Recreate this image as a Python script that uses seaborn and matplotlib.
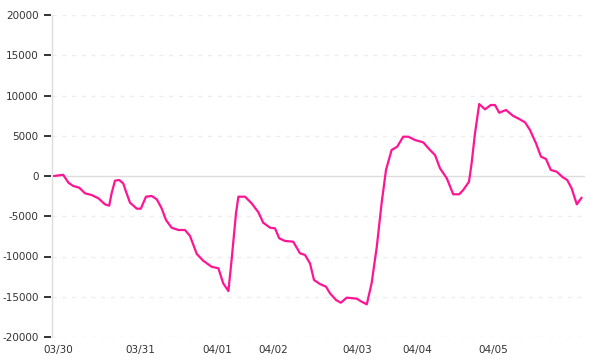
import matplotlib
matplotlib.use("Agg")
import matplotlib.pyplot as plt
from matplotlib.lines import Line2D
import seaborn as sns
import pandas as pd

# time index (trading-time units) and cumulative value
t = [0, 2.3, 3.6, 4.8, 6.3, 7.75, 9.4, 11.1, 12.75, 13.8, 14.4, 15.25, 16.3, 17.3, 18, 19,
     20.7, 21.7, 23, 24.4, 25.7, 26.9, 28, 29.4, 31.1, 32.75, 34, 35.7, 37.3, 39.4, 41.1,
     42.3, 43.6, 44.4, 45.5, 46.1, 47.75, 49.4, 51.1, 52.3, 54, 55.25, 56.3, 57.75, 59.8,
     61.5, 62.75, 64, 65, 66.5, 68, 69, 70.5, 71.7, 73.2, 75.7, 76.9, 78.2, 79.4, 80.7,
     81.9, 83, 84.4, 85.8, 87.3, 88.6, 90.25, 92.3, 94, 95.25, 96.5, 98.2, 99.8, 101.3,
     102.3, 103.75, 104.4, 105.25, 106.3, 107.75, 109.2, 110.25, 111.3, 113, 114.7, 116.3,
     117.75, 119, 120.5, 121.75, 123, 124.2, 125.7, 127.2, 128.3, 129.4, 130.7, 131.9]
values = [0, 150, -830, -1240, -1450, -2150, -2360, -2770, -3520, -3690, -2150, -580, -500,
          -910, -1950, -3310, -4060, -4060, -2570, -2480, -2900, -4010, -5470, -6420, -6710,
          -6710, -7450, -9690, -10520, -11270, -11470, -13330, -14290, -10430, -4630, -2570,
          -2570, -3390, -4510, -5800, -6420, -6500, -7740, -8070, -8160, -9600, -9810, -10850,
          -12920, -13420, -13750, -14570, -15400, -15740, -15110, -15240, -15610, -15940,
          -13330, -8780, -3390, 750, 3230, 3640, 4880, 4880, 4470, 4180, 3230, 2610, 960,
          -290, -2270, -2270, -1740, -710, 1570, 5300, 8940, 8280, 8820, 8820, 7860, 8200,
          7490, 7080, 6670, 5710, 4060, 2400, 2110, 750, 530, -160, -500, -1530, -3520, -2690]

tick_pos = [1, 21.5, 40.75, 54.75, 75.75, 90.75, 109.75]
tick_labels = ["03/30", "03/31", "04/01", "04/02", "04/03", "04/04", "04/05"]
y_ticks = [-20000, -15000, -10000, -5000, 0, 5000, 10000, 15000, 20000]

sns.set_style("white")
plt.rcParams["font.family"] = ["DejaVu Sans"]

df = pd.DataFrame({"t": t, "v": values})

W, H = 600, 360
L, R, T, B = 52, 585, 15, 337
fig = plt.figure(figsize=(W / 100, H / 100), dpi=100)
ax = fig.add_axes([L / W, 1 - B / H, (R - L) / W, (B - T) / H])

for yv in y_ticks:
    if yv == 0:
        ax.axhline(0, color="#dddddd", lw=1, zorder=1)
    else:
        ax.axhline(yv, color="#eeeeee", lw=1, ls=(0, (3, 4)), zorder=1)

sns.lineplot(data=df, x="t", y="v", ax=ax, color="#ff1493", lw=1.6, zorder=3)

ax.set_xlim(-0.5, 132.75)
ax.set_ylim(-20000, 20000)
ax.set_yticks(y_ticks)
ax.set_yticklabels([str(v) for v in y_ticks])
ax.set_xticks(tick_pos)
ax.set_xticklabels(tick_labels)
ax.set_xlabel("")
ax.set_ylabel("")

for s in ["top", "right", "bottom"]:
    ax.spines[s].set_visible(False)
ax.spines["left"].set_color("#dddddd")
ax.spines["left"].set_linewidth(1)

ax.tick_params(axis="y", left=False, right=False, labelsize=7.5, labelcolor="#333333", pad=6)
ax.tick_params(axis="x", bottom=False, top=False, length=0, labelsize=7.5,
               labelcolor="#333333", pad=6)

# y-axis tick marks drawn in figure space at each tick's data position
fig.canvas.draw()
for yv in y_ticks:
    ypix = ax.transData.transform((0, yv))[1]
    fig.add_artist(Line2D([(L - 8) / W, (L - 1) / W], [ypix / H, ypix / H],
                          transform=fig.transFigure, color="#111111", lw=1.2,
                          solid_capstyle="butt", zorder=10))

fig.savefig("out.png", dpi=100)
